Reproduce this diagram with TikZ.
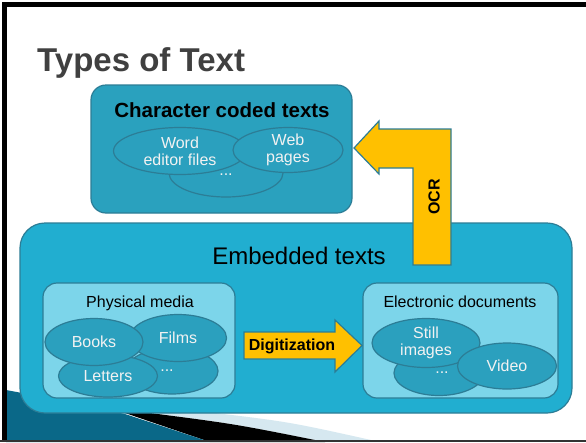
\documentclass[tikz,border=0pt]{standalone}
\usepackage{fontspec}
\setmainfont{Liberation Sans}
\usetikzlibrary{shapes.geometric}

\begin{document}
\begin{tikzpicture}[x=1pt,y=-1pt,
	box/.style={draw=edgeteal, line width=1.2pt, rounded corners=#1, inner sep=0pt},
	blob/.style={ellipse, draw=edgeteal, line width=1.2pt, fill=blobteal, text=blobtext,
		inner sep=-3pt, align=center, font=\fontsize{16}{17}\selectfont},
	boxtitle/.style={anchor=base, inner sep=0pt, font=\fontsize{16}{18}\selectfont},
	blockarrow/.style={draw=edgeteal, line width=1.2pt, fill=arrowyellow, line join=miter},
	arrowtext/.style={inner sep=0pt, font=\bfseries\fontsize{16}{18}\selectfont}]
	\definecolor{edgeteal}{RGB}{44,125,150}
	\definecolor{charfill}{RGB}{42,161,190}
	\definecolor{blobteal}{RGB}{43,160,190}
	\definecolor{blobtext}{RGB}{242,242,242}
	\definecolor{embfill}{RGB}{33,174,208}
	\definecolor{innerfill}{RGB}{124,213,234}
	\definecolor{arrowyellow}{RGB}{255,192,0}
	\definecolor{titlegray}{RGB}{64,64,64}
	\definecolor{swooshdark}{RGB}{10,104,136}
	\definecolor{swooshlight}{RGB}{78,182,214}
	\definecolor{stripeblue}{RGB}{214,232,240}

	\useasboundingbox (0,0) rectangle (586,442);
	\fill[white] (0,0) rectangle (586,442);

	% swoosh in the lower left corner
	\fill[stripeblue] (150,413) -- (215,413) .. controls (290,422) .. (380,442)
		-- (325,442) .. controls (235,424) .. (150,413) -- cycle;
	\fill[black] (125,413) -- (150,413) .. controls (235,424) .. (325,442)
		-- (210,442) -- cycle;
	\shade[left color=swooshdark, middle color=swooshlight, right color=swooshdark]
		(6,390) .. controls (60,400) .. (125,414) -- (210,442) -- (6,442) -- cycle;

	% title
	\node (title) at (37,71) [anchor=base west, inner sep=0pt, text=titlegray,
		font=\bfseries\fontsize{33}{38}\selectfont] {Types of Text};

	% embedded texts
	\node[box=25pt, fill=embfill, minimum width=552pt, minimum height=190pt] (embedded) at (296,318) {};
	\node (embtitle) at (299,264) [anchor=base, inner sep=0pt, font=\fontsize{24}{28}\selectfont] {Embedded texts};

	% OCR arrow
	\draw[blockarrow] (451,129) -- (451,265) -- (413,265) -- (413,168) -- (379,168)
		-- (379,174) -- (354,148) -- (379,121) -- (379,129) -- cycle;
	\node[arrowtext, rotate=90] (ocr) at (434,197) {OCR};

	% character coded texts
	\node[box=15pt, fill=charfill, minimum width=261pt, minimum height=128pt] (chartexts) at (221.5,149) {};
	\node (chartitle) at (222,117) [anchor=base, inner sep=0pt, font=\bfseries\fontsize{20.5}{24}\selectfont] {Character coded texts};
	\node[blob, minimum width=114pt, minimum height=48pt] (chardots) at (226,173) {\raisebox{-4pt}{...}};
	\node[blob, minimum width=133pt, minimum height=47pt] (word) at (180,151) {Word\\editor files};
	\node[blob, minimum width=110pt, minimum height=45pt] (web) at (288,150) {Web\\pages};

	% physical media
	\node[box=14pt, fill=innerfill, minimum width=192pt, minimum height=115pt] (physical) at (139,340.5) {};
	\node[boxtitle] (phystitle) at (140,307) {Physical media};
	\node[blob, minimum width=92pt, minimum height=46pt] (physdots) at (172,371) {\hspace*{-10pt}...};
	\node[blob, minimum width=97pt, minimum height=47pt] (films) at (178,338) {Films};
	\node[blob, minimum width=99pt, minimum height=42pt] (letters) at (108,376) {Letters};
	\node[blob, minimum width=98pt, minimum height=47pt] (books) at (94,342) {Books};

	% electronic documents
	\node[box=14pt, fill=innerfill, minimum width=195pt, minimum height=115pt] (electronic) at (460.5,340.5) {};
	\node[boxtitle] (electitle) at (460,307) {Electronic documents};
	\node[blob, minimum width=90pt, minimum height=45pt] (elecdots) at (439,373) {\hspace*{6pt}...};
	\node[blob, minimum width=108pt, minimum height=49pt] (still) at (426,343) {Still\\images};
	\node[blob, minimum width=99pt, minimum height=46pt] (video) at (507,366) {Video};

	% digitization arrow
	\draw[blockarrow] (244,332) -- (335,332) -- (335,320) -- (362,345.5) -- (335,372)
		-- (335,359) -- (244,359) -- cycle;
	\node[arrowtext] (digit) at (292,346) {Digitization};

	% frame
	\fill[black] (2,2) rectangle (586,6.5);
	\fill[black] (2,2) rectangle (6.5,442);
	\draw[black!80, line width=1.5pt] (0,441) -- (586,441);
\end{tikzpicture}
\end{document}
